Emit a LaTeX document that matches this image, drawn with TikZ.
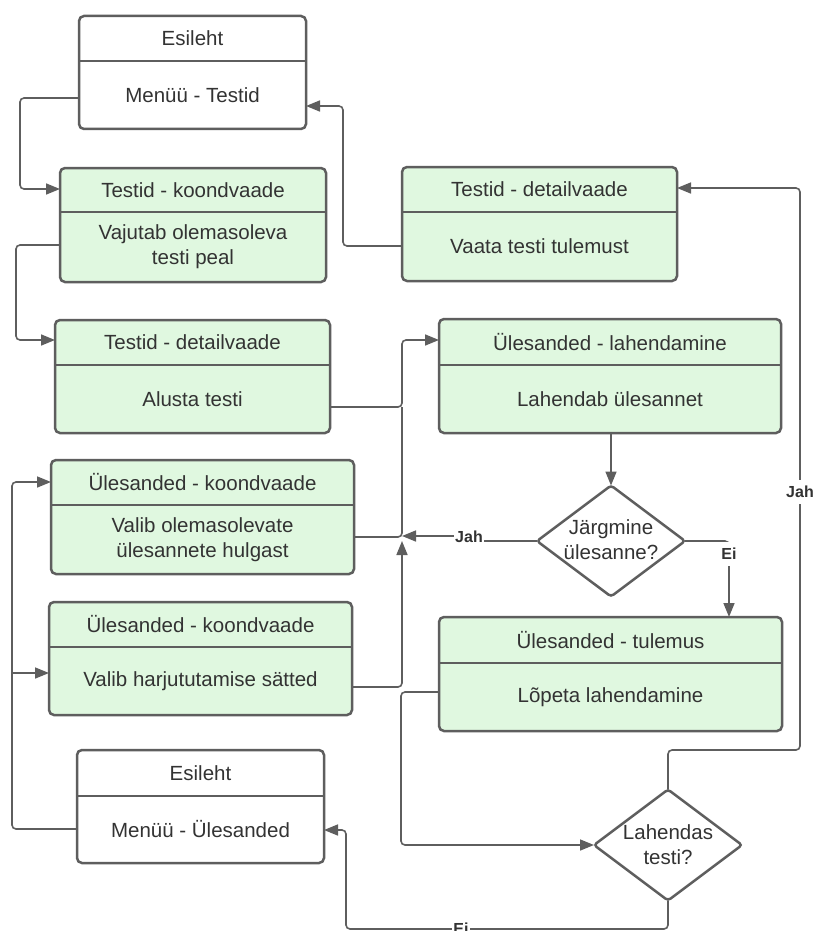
\documentclass[tikz,border=0pt]{standalone}
\usepackage{fontspec}
\setmainfont{Liberation Sans}
\usetikzlibrary{arrows.meta,shapes.geometric}

\definecolor{cardfill}{RGB}{224,248,224}
\definecolor{edge}{RGB}{94,94,94}
\definecolor{ink}{RGB}{51,51,51}

\tikzset{
  card/.style={draw=edge, line width=2.5pt, rounded corners=5pt, inner sep=0pt, outer sep=0pt},
  cardg/.style={card, fill=cardfill},
  cardw/.style={card, fill=white},
  divider/.style={draw=edge, line width=2.5pt},
  txt/.style={text=ink, font=\fontsize{20.5}{25}\selectfont, align=center, inner sep=0pt},
  conn/.style={draw=edge, line width=1.6pt, rounded corners=4pt},
  arr/.style={-{Triangle[length=14pt,width=11pt]}},
  lbl/.style={fill=white, text=ink, font=\bfseries\fontsize{16}{18}\selectfont, inner xsep=1pt, inner ysep=6pt},
  decision/.style={diamond, draw=edge, line width=2.5pt, fill=white, rounded corners=3pt,
    minimum width=148pt, minimum height=111pt, inner sep=0pt, outer sep=0pt},
}

% #1 style, #2 name, #3..#6 corners (x1,y1,x2,y2), #7 divider y, #8 header, #9 body
\newcommand\card[9]{%
  \pgfmathsetmacro\cw{#5-#3}\pgfmathsetmacro\ch{#6-#4}%
  \pgfmathsetmacro\cx{(#3+#5)/2}\pgfmathsetmacro\cy{(#4+#6)/2}%
  \pgfmathsetmacro\hy{(#4+#7)/2}\pgfmathsetmacro\by{(#7+#6)/2}%
  \node[#1, minimum width=\cw pt, minimum height=\ch pt] (#2) at (\cx,\cy) {};
  \draw[divider] (#2.west |- 0,#7) -- (#2.east |- 0,#7);
  \node[txt] (#2-h) at (\cx,\hy) {#8};
  \node[txt] (#2-b) at (\cx,\by) {#9};
}

\begin{document}
\begin{tikzpicture}[x=1pt,y=-1pt]
\fill[white] (0,0) rectangle (815,931);
\useasboundingbox (0,0) rectangle (815,931);

% screens
\card{cardw}{esi1}{79}{16}{306}{129}{61}{Esileht}{Menüü - Testid}
\card{cardg}{tk}{60}{168}{326}{282}{212}{Testid - koondvaade}{Vajutab olemasoleva\\testi peal}
\card{cardg}{tdr}{402}{167}{677}{281}{212}{Testid - detailvaade}{Vaata testi tulemust}
\card{cardg}{tdl}{55}{320}{330}{433}{365}{Testid - detailvaade}{Alusta testi}
\card{cardg}{ul}{439}{319}{781}{433}{365}{Ülesanded - lahendamine}{Lahendab ülesannet}
\card{cardg}{uk1}{51}{460}{354}{574}{505}{Ülesanded - koondvaade}{Valib olemasolevate\\ülesannete hulgast}
\card{cardg}{uk2}{49}{602}{352}{715}{647}{Ülesanded - koondvaade}{Valib harjututamise sätted}
\card{cardg}{ut}{439}{617}{782}{731}{663}{Ülesanded - tulemus}{Lõpeta lahendamine}
\card{cardw}{esi2}{77}{750}{324}{863}{796}{Esileht}{Menüü - Ülesanded}

% decisions
\node[decision] (d1) at (611,541) {};
\node[txt] (d1t) at (611,540) {Järgmine\\ülesanne?};
\node[decision] (d2) at (668,845) {};
\node[txt] (d2t) at (668,845) {Lahendas\\testi?};

% junction points
\coordinate (merge) at (402,536);
\coordinate (split) at (12,673);

% connectors
\draw[conn,arr] (esi1.west |- 0,98) -- (20,98) -- (20,189) -- (tk.west |- 0,189);
\draw[conn,arr] (tk.west |- 0,245) -- (16,245) -- (16,340) -- (tdl.west |- 0,340);
\draw[conn,arr] (tdr.west |- 0,246) -- (343,246) -- (343,106) -- (esi1.east |- 0,106);
\draw[conn,arr] (d2.north) -- (668,750) -- (800,750) -- (800,188) -- (tdr.east |- 0,188);
\node[lbl] (jah2) at (800,492) {Jah};
\draw[conn,arr] (tdl.east |- 0,407) -- (402,407) -- (402,340) -- (ul.west |- 0,340);
\draw[conn] (uk1.east |- 0,537) -- (402,537) -- (402,407);
\draw[conn,arr] (d1.north |- ul.south) -- (d1.north);
\node[lbl, inner ysep=2pt] (jah1) at (469,537) {Jah};
\draw[conn] (d1.west) -- (jah1.east |- d1.west);
\draw[conn,arr] (jah1.west |- merge) -- (merge);
\draw[conn,arr] (uk2.east |- 0,687) -- (402,687) -- (402,541);
\draw[conn,arr] (d1.east) -- (729,541) -- (ut.north -| 729,0);
\node[lbl] (ei1) at (729,554) {Ei};
\draw[conn,arr] (ut.west |- 0,692) -- (401,692) -- (401,845) -- (d2.west);
\draw[conn,arr] (d2.south) -- (668,929) -- (346,929) -- (346,830) -- (esi2.east |- 0,830);
\node[lbl] (ei2) at (461,929) {Ei};
\draw[conn,arr] (esi2.west |- 0,829) -- (12,829) -- (12,482) -- (uk1.west |- 0,482);
\draw[conn,arr] (split) -- (uk2.west |- split);
\end{tikzpicture}
\end{document}
